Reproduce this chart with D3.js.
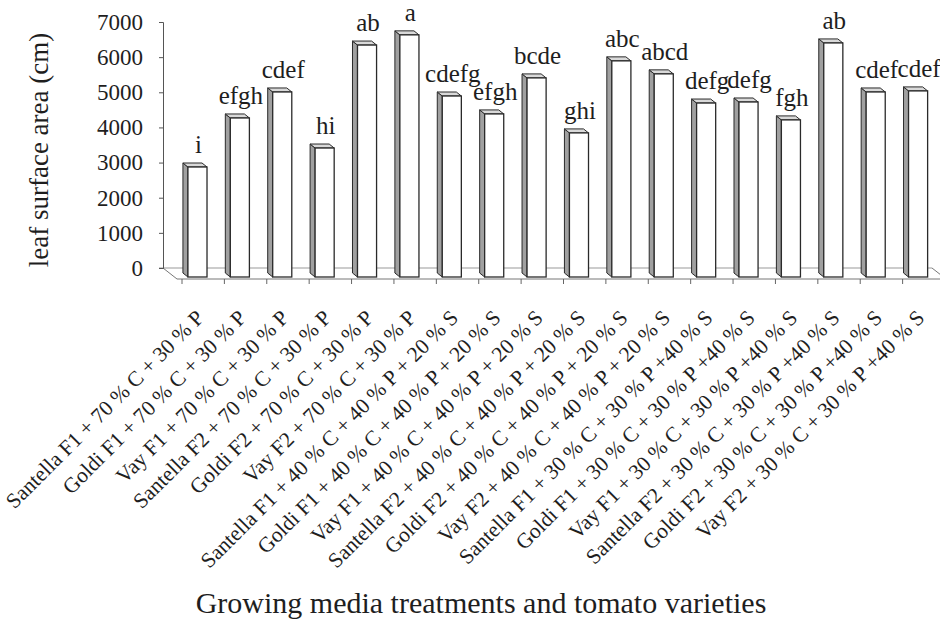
<!DOCTYPE html>
<html>
<head>
<meta charset="utf-8">
<script src="https://cdn.jsdelivr.net/npm/d3@7"></script>
<style>
  html, body { margin: 0; padding: 0; background: #fff; }
  svg { display: block; }
  text { font-family: "Liberation Serif", "Times New Roman", serif; fill: #1e1e1e; }
</style>
</head>
<body>
<svg id="chart" width="940" height="630"></svg>
<script>
// Leaf surface area per growing-media treatment and tomato variety
const categories = [
  "Santella F1 + 70 % C + 30 % P",
  "Goldi F1 + 70 % C + 30 % P",
  "Vay F1 + 70 % C + 30 % P",
  "Santella F2 + 70 % C + 30 % P",
  "Goldi F2 + 70 % C + 30 % P",
  "Vay F2 + 70 % C + 30 % P",
  "Santella F1 + 40 % C + 40 % P + 20 % S",
  "Goldi F1 + 40 % C + 40 % P + 20 % S",
  "Vay F1 + 40 % C + 40 % P + 20 % S",
  "Santella F2 + 40 % C + 40 % P + 20 % S",
  "Goldi F2 + 40 % C + 40 % P + 20 % S",
  "Vay F2 + 40 % C + 40 % P + 20 % S",
  "Santella F1 + 30 % C + 30 % P +40 % S",
  "Goldi F1 + 30 % C + 30 % P +40 % S",
  "Vay F1 + 30 % C + 30 % P +40 % S",
  "Santella F2 + 30 % C + 30 % P +40 % S",
  "Goldi F2 + 30 % C + 30 % P +40 % S",
  "Vay F2 + 30 % C + 30 % P +40 % S"
];
const values = [3130, 4525, 5265, 3670, 6600, 6890, 5150, 4640, 5665, 4100, 6150, 5780, 4950, 4980, 4470, 6660, 5265, 5295];
const letters = ["i", "efgh", "cdef", "hi", "ab", "a", "cdefg", "efgh", "bcde", "ghi", "abc", "abcd", "defg", "defg", "fgh", "ab", "cdef", "cdef"];
const yTicks = [0, 1000, 2000, 3000, 4000, 5000, 6000, 7000];

const svg = d3.select("#chart");

// back wall vertical scale
const y = d3.scaleLinear().domain([0, 7000]).range([268, 22]);
// category bands on the front edge of the floor
const x = d3.scaleBand().domain(categories).range([182, 945]).padding(0);
const bw = x.bandwidth();

// oblique projection offsets
const floorDepth = { dx: 14, dy: 11 };   // back wall -> front edge of floor
const barFrontDy = 9;                    // back wall -> front face of bars
const barDepth = { dx: -5, dy: -4 };     // front face -> back face of a bar

const wallLeft = 163, wallRight = 932;
const base = y(0);

// floor outline
const floor = svg.append("g").attr("fill", "none");
floor.append("line").attr("x1", wallLeft - 4).attr("x2", wallRight)
  .attr("y1", base).attr("y2", base).attr("stroke", "#9a9a9a").attr("stroke-width", 1.2);
floor.append("line").attr("x1", wallLeft).attr("y1", base)
  .attr("x2", wallLeft + floorDepth.dx).attr("y2", base + floorDepth.dy)
  .attr("stroke", "#777");
floor.append("line").attr("x1", wallRight).attr("y1", base)
  .attr("x2", wallRight + floorDepth.dx).attr("y2", base + floorDepth.dy)
  .attr("stroke", "#777");
floor.append("line").attr("x1", wallLeft + floorDepth.dx).attr("x2", wallRight + floorDepth.dx)
  .attr("y1", base + floorDepth.dy).attr("y2", base + floorDepth.dy)
  .attr("stroke", "#777");

// category ticks on the front edge
const tickXs = categories.map(c => x(c)).concat([x(categories[categories.length - 1]) + bw]);
svg.append("g").selectAll("line").data(tickXs).join("line")
  .attr("x1", d => d).attr("x2", d => d)
  .attr("y1", base + floorDepth.dy).attr("y2", base + floorDepth.dy + 5)
  .attr("stroke", "#666");

// value axis
const yAxis = d3.axisLeft(y).tickValues(yTicks).tickSize(4).tickPadding(16).tickFormat(d3.format("d"));
const ya = svg.append("g").attr("transform", `translate(${wallLeft},0)`).call(yAxis);
ya.select(".domain").attr("stroke", "#555");
ya.selectAll(".tick line").attr("stroke", "#555");
ya.selectAll(".tick text").attr("font-size", 23).attr("fill", "#1e1e1e")
  .attr("font-family", "Liberation Serif, Times New Roman, serif");

// 3-D columns
const bars = svg.append("g").selectAll("g").data(categories).join("g");
bars.each(function (c, i) {
  const g = d3.select(this);
  const x0 = x(c) + bw * 0.14;
  const w = bw * 0.45;
  const top = y(values[i]) + barFrontDy;
  const bottom = base + barFrontDy;
  const dx = barDepth.dx, dy = barDepth.dy;
  // side face
  g.append("path")
    .attr("d", `M${x0},${top} L${x0 + dx},${top + dy} L${x0 + dx},${bottom + dy} L${x0},${bottom} Z`)
    .attr("fill", "#a0a0a0").attr("stroke", "#2a2a2a").attr("stroke-width", 1);
  // top face
  g.append("path")
    .attr("d", `M${x0},${top} L${x0 + dx},${top + dy} L${x0 + w + dx},${top + dy} L${x0 + w},${top} Z`)
    .attr("fill", "#d9d9d9").attr("stroke", "#2a2a2a").attr("stroke-width", 1);
  // front face
  g.append("rect")
    .attr("x", x0).attr("y", top).attr("width", w).attr("height", bottom - top)
    .attr("fill", "#ffffff").attr("stroke", "#2a2a2a").attr("stroke-width", 1.3);
  // significance letters
  g.append("text")
    .attr("x", x0 + w / 2 + 1).attr("y", top - 14)
    .attr("text-anchor", "middle").attr("font-size", 25)
    .text(letters[i]);
});

// rotated category labels
svg.append("g").selectAll("text").data(categories).join("text")
  .attr("transform", d => `translate(${x(d) + bw / 2 + 2},319) rotate(-45)`)
  .attr("text-anchor", "end").attr("font-size", 21.5)
  .text(d => d);

// axis titles
svg.append("text")
  .attr("transform", "translate(48,150) rotate(-90)")
  .attr("text-anchor", "middle").attr("font-size", 27)
  .text("leaf surface area (cm)");

svg.append("text")
  .attr("x", 481).attr("y", 613)
  .attr("text-anchor", "middle").attr("font-size", 30)
  .text("Growing media treatments and tomato varieties");
</script>
</body>
</html>
